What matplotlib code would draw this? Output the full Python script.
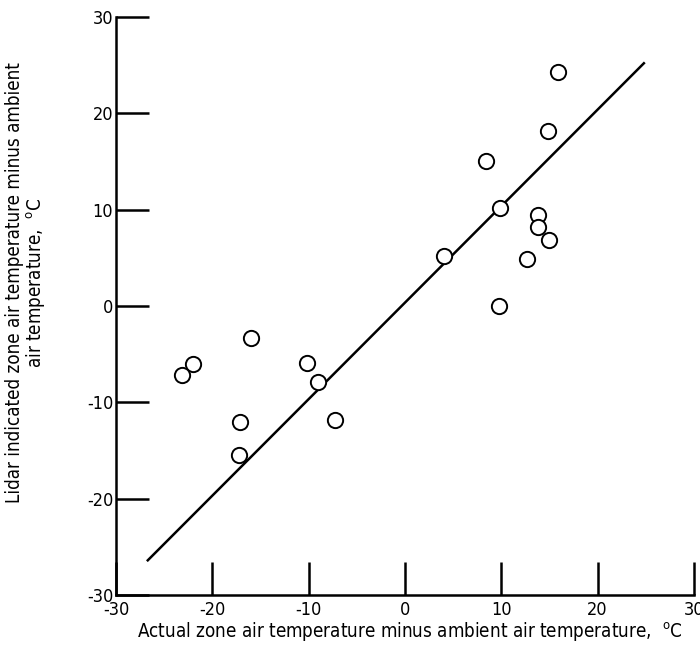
#Lidar indicated vs actual zone air temperature difference (scatter + fit line)

import matplotlib.pyplot as plt

#data
actual = [15.9, 14.8, 8.4, 9.9, 13.85, 13.85, 15.0, 12.7, 4.0, 9.8,
          -16.0, -22.0, -23.1, -10.2, -9.0, -17.1, -17.2, -7.3]
lidar = [24.3, 18.2, 15.1, 10.2, 9.4, 8.2, 6.8, 4.9, 5.2, 0.0,
         -3.3, -6.0, -7.2, -5.9, -7.9, -12.0, -15.5, -11.8]

#fitted line end points
fit_x = [-26.7, 24.8]
fit_y = [-26.4, 25.2]

ticks = [-30, -20, -10, 0, 10, 20, 30]

plt.rcParams['font.family'] = ['DejaVu Sans']
plt.rcParams['font.stretch'] = 'condensed'
plt.rcParams['axes.unicode_minus'] = False

fig = plt.figure(figsize=(7, 6.49), dpi=100)
ax = fig.add_axes([0.1657, 0.0832, 0.8257, 0.8906])

ax.plot(fit_x, fit_y, color='black', lw=1.8)
ax.plot(actual, lidar, 'o', ms=11, mfc='white', mec='black', mew=1.4)

ax.set_xlim(-30, 30)
ax.set_ylim(-30, 30)
ax.set_xticks(ticks)
ax.set_yticks(ticks)
ax.tick_params(direction='in', length=24, width=1.8, labelsize=13)
ax.tick_params(axis='y', pad=2)
ax.tick_params(axis='x', pad=4)

ax.spines['top'].set_visible(False)
ax.spines['right'].set_visible(False)
ax.spines['left'].set_linewidth(1.8)
ax.spines['bottom'].set_linewidth(1.8)

ax.set_xlabel('Actual zone air temperature minus ambient air temperature,  $^{\\rm o}$C',
              fontsize=13.5)
ax.xaxis.set_label_coords(0.509, -0.045)
ax.set_ylabel('Lidar indicated zone air temperature minus ambient\nair temperature,  $^{\\rm o}$C',
              fontsize=13.5, linespacing=1.05)
ax.yaxis.set_label_coords(-0.118, 0.54)

fig.savefig('out.png', dpi=100)
